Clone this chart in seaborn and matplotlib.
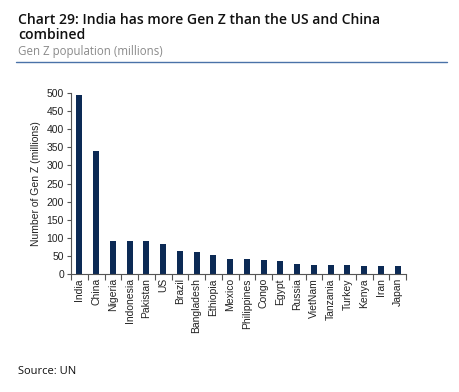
import matplotlib
matplotlib.use("Agg")
import matplotlib.pyplot as plt
import seaborn as sns
import pandas as pd
import numpy as np

countries = ["India", "China", "Nigeria", "Indonesia", "Pakistan", "US", "Brazil",
             "Bangladesh", "Ethiopia", "Mexico", "Philippines", "Congo", "Egypt",
             "Russia", "VietNam", "Tanzania", "Turkey", "Kenya", "Iran", "Japan"]
genz = [495, 341, 90, 90, 90, 84, 64, 60, 53, 42, 42, 40, 36, 29, 26, 26, 26, 23, 23, 23]
yticks = [0, 50, 100, 150, 200, 250, 300, 350, 400, 450, 500]

sns.set_theme(style="white")
plt.rcParams['font.family'] = ['Liberation Sans', 'DejaVu Sans']

df = pd.DataFrame({"country": countries, "value": genz})

fig = plt.figure(figsize=(4.59, 3.92), dpi=100)
ax = fig.add_axes([71/459, 1 - 274/392, (406-71)/459, (274-93)/392])

sns.barplot(data=df, x="country", y="value", color="#0c2a55", width=0.36,
            saturation=1, linewidth=0, ax=ax)

ax.set_ylim(0, 500)
ax.set_xlim(-0.5, len(countries) - 0.5)
ax.set_yticks(yticks)
ax.set_yticklabels([str(v) for v in yticks], fontsize=7.5, color="#222222")
ax.set_xticks(range(len(countries)))
ax.set_xticklabels(countries, rotation=90, fontsize=7.5, color="#222222")
ax.set_xticks(np.arange(-0.5, len(countries), 1.0), minor=True)
ax.tick_params(axis="x", which="major", length=0, pad=3)
ax.tick_params(axis="x", which="minor", length=4, width=0.8, color="#555555", direction="out", bottom=True)
ax.tick_params(axis="y", length=3, width=0.8, color="#555555", direction="out", left=True, pad=2)
ax.set_xlabel("")
ax.set_ylabel("Number of Gen Z (millions)", fontsize=7.5, color="#222222", labelpad=4)
for s in ["top", "right"]:
    ax.spines[s].set_visible(False)
for s in ["left", "bottom"]:
    ax.spines[s].set_color("#555555")
    ax.spines[s].set_linewidth(0.8)

tfont = ['Open Sans', 'DejaVu Sans']
fig.text(18/459, 1 - 20/392, "Chart 29: India has more Gen Z than the US and China",
         fontsize=10.1, fontweight="semibold", family=tfont, color="#111111", va="center", ha="left")
fig.text(18/459, 1 - 35/392, "combined",
         fontsize=10.1, fontweight="semibold", family=tfont, color="#111111", va="center", ha="left")
fig.text(18/459, 1 - 51/392, "Gen Z population (millions)",
         fontsize=8.3, family=tfont, color="#8a8a8a", va="center", ha="left")
fig.add_artist(plt.Line2D([16/459, 447/459], [1 - 62/392, 1 - 62/392],
                          color="#4a72a8", linewidth=1.0, transform=fig.transFigure))
fig.text(18/459, 1 - 372/392, "Source: UN", fontsize=8, family=tfont, color="#111111",
         va="center", ha="left")

fig.savefig("out.png", dpi=100)
